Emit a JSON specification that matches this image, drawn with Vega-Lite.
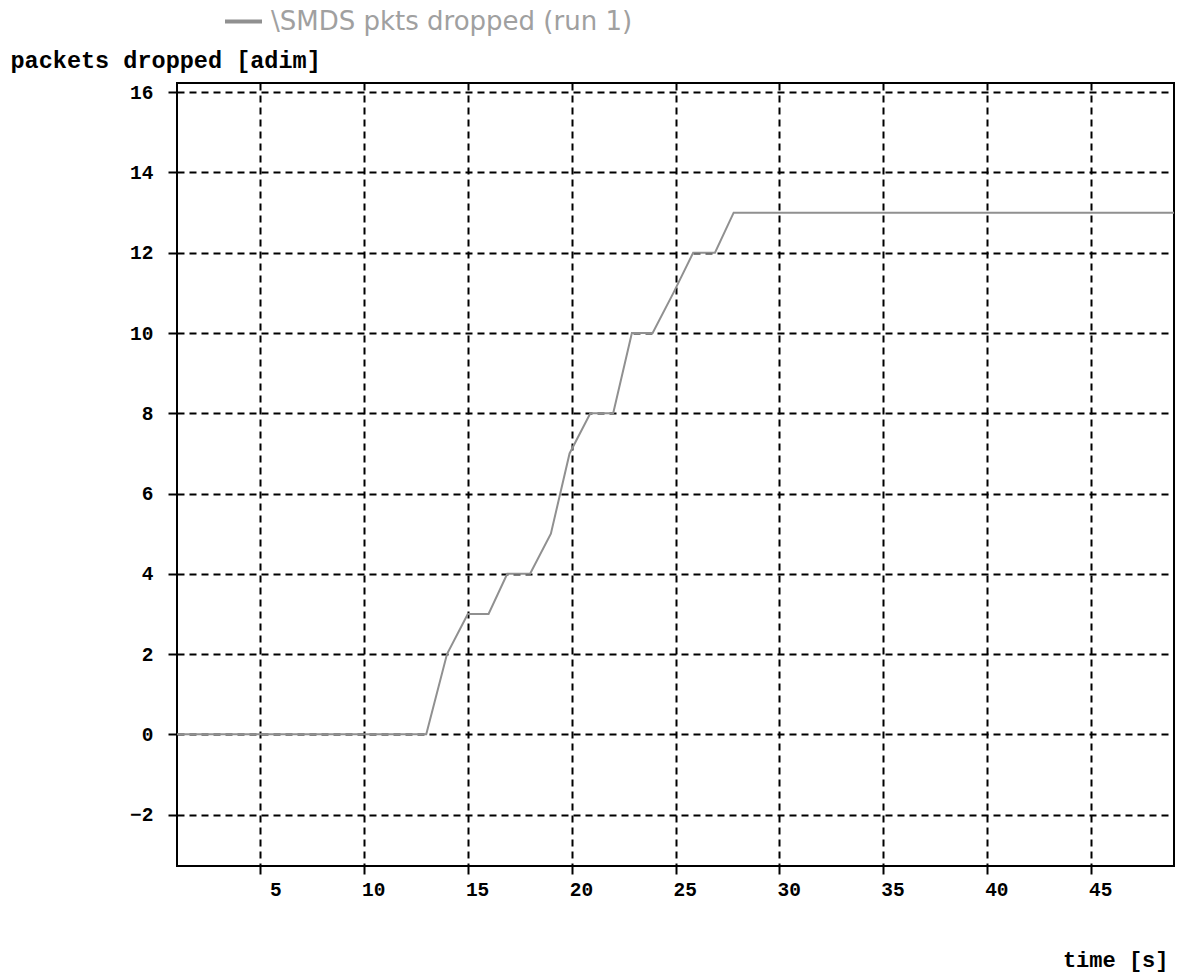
{
  "$schema": "https://vega.github.io/schema/vega-lite/v6.json",
  "width": 997,
  "height": 783,
  "autosize": {"type": "none"},
  "padding": {"left": 177, "top": 83, "right": 8, "bottom": 107},
  "background": "white",
  "config": {
    "view": {"stroke": "black", "strokeWidth": 2},
    "axis": {
      "grid": true,
      "gridColor": "black",
      "gridDash": [7, 5],
      "gridWidth": 2,
      "gridOpacity": 1,
      "domain": false,
      "tickColor": "black",
      "tickWidth": 2,
      "labelFont": "Liberation Mono",
      "labelFontWeight": "bold",
      "labelFontSize": 19.5,
      "labelColor": "black",
      "labelFlush": false,
      "labelOverlap": false,
      "titleFont": "Liberation Mono",
      "titleFontWeight": "bold",
      "titleFontSize": 23.5,
      "titleColor": "black"
    }
  },
  "data": {
    "values": [
      {"time": 1, "dropped": 0, "series": "\\SMDS pkts dropped (run 1)"},
      {"time": 13, "dropped": 0, "series": "\\SMDS pkts dropped (run 1)"},
      {"time": 14, "dropped": 2, "series": "\\SMDS pkts dropped (run 1)"},
      {"time": 15, "dropped": 3, "series": "\\SMDS pkts dropped (run 1)"},
      {"time": 16, "dropped": 3, "series": "\\SMDS pkts dropped (run 1)"},
      {"time": 16.9, "dropped": 4, "series": "\\SMDS pkts dropped (run 1)"},
      {"time": 18, "dropped": 4, "series": "\\SMDS pkts dropped (run 1)"},
      {"time": 19, "dropped": 5, "series": "\\SMDS pkts dropped (run 1)"},
      {"time": 19.9, "dropped": 7, "series": "\\SMDS pkts dropped (run 1)"},
      {"time": 20.9, "dropped": 8, "series": "\\SMDS pkts dropped (run 1)"},
      {"time": 22, "dropped": 8, "series": "\\SMDS pkts dropped (run 1)"},
      {"time": 22.9, "dropped": 10, "series": "\\SMDS pkts dropped (run 1)"},
      {"time": 23.9, "dropped": 10, "series": "\\SMDS pkts dropped (run 1)"},
      {"time": 24.9, "dropped": 11, "series": "\\SMDS pkts dropped (run 1)"},
      {"time": 25.85, "dropped": 12, "series": "\\SMDS pkts dropped (run 1)"},
      {"time": 26.9, "dropped": 12, "series": "\\SMDS pkts dropped (run 1)"},
      {"time": 27.8, "dropped": 13, "series": "\\SMDS pkts dropped (run 1)"},
      {"time": 49, "dropped": 13, "series": "\\SMDS pkts dropped (run 1)"}
    ]
  },
  "mark": {"type": "line", "strokeWidth": 2, "clip": true},
  "encoding": {
    "x": {
      "field": "time",
      "type": "quantitative",
      "scale": {"domain": [1, 49], "nice": false, "zero": false},
      "axis": {
        "values": [5, 10, 15, 20, 25, 30, 35, 40, 45],
        "tickSize": 8,
        "labelPadding": 6,
        "labelAlign": "right",
        "labelOffset": 21,
        "title": "time [s]",
        "titleX": 991,
        "titleY": 93,
        "titleFontSize": 22,
        "titleAlign": "right",
        "titleBaseline": "middle",
        "titleAnchor": null
      }
    },
    "y": {
      "field": "dropped",
      "type": "quantitative",
      "scale": {"domain": [-3.28, 16.23], "nice": false, "zero": false},
      "axis": {
        "values": [-2, 0, 2, 4, 6, 8, 10, 12, 14, 16],
        "tickSize": 9,
        "labelPadding": 15,
        "title": "packets dropped [adim]",
        "titleAngle": 0,
        "titleX": -167,
        "titleY": -23,
        "titleAlign": "left",
        "titleBaseline": "middle",
        "titleAnchor": null
      }
    },
    "color": {
      "field": "series",
      "type": "nominal",
      "scale": {"range": ["#909090"]},
      "legend": {
        "orient": "none",
        "legendX": 46,
        "legendY": -82,
        "title": null,
        "symbolType": "stroke",
        "symbolSize": 1369,
        "symbolStrokeWidth": 4,
        "labelFont": "DejaVu Sans",
        "labelFontSize": 26,
        "labelColor": "#a0a0a0",
        "labelLimit": 0,
        "labelOffset": 7,
        "padding": 0
      }
    }
  }
}
